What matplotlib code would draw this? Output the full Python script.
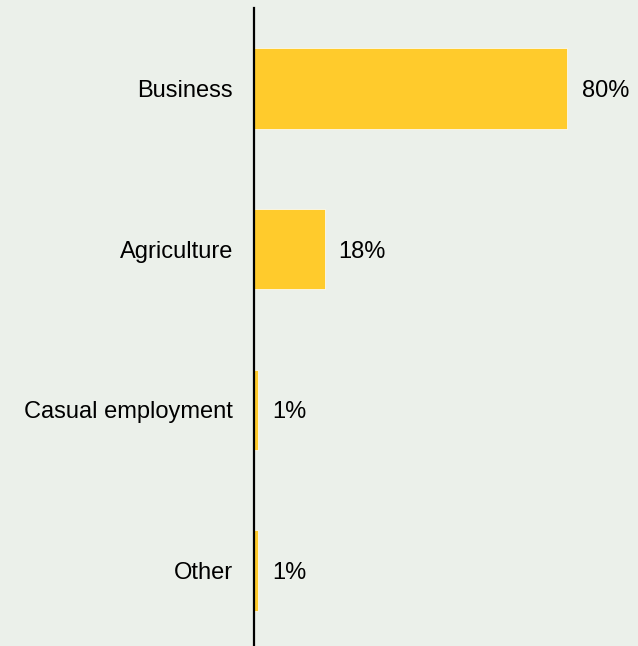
import matplotlib.pyplot as plt

categories = ['Business', 'Agriculture', 'Casual employment', 'Other']
values = [80, 18, 1, 1]
labels = ['80%', '18%', '1%', '1%']

bg = '#ebf0ea'
plt.rcParams['font.family'] = ['Liberation Sans', 'DejaVu Sans']

fig = plt.figure(figsize=(6.38, 6.46), dpi=100, facecolor=bg)
ax = fig.add_axes([254 / 638, 0, 1 - 254 / 638, 1 - 8 / 646])
ax.set_facecolor(bg)

y = list(range(len(categories)))
ax.barh(y, values, height=0.5, color='#ffcb2c', edgecolor='white', linewidth=0.5)
for yi, v, lab in zip(y, values, labels):
    ax.text(v + 3.6, yi, lab, va='center_baseline', ha='left', fontsize=17, color='black')

ax.set_yticks(y)
ax.set_yticklabels(categories, fontsize=17)
ax.tick_params(axis='y', length=0, pad=15)
ax.set_xticks([])
ax.set_ylim(3.47, -0.5)
ax.set_xlim(0, 98)
for s in ['top', 'right', 'bottom']:
    ax.spines[s].set_visible(False)
ax.spines['left'].set_linewidth(1.6)
ax.spines['left'].set_color('black')

fig.savefig('out.png', dpi=100, facecolor=bg)
